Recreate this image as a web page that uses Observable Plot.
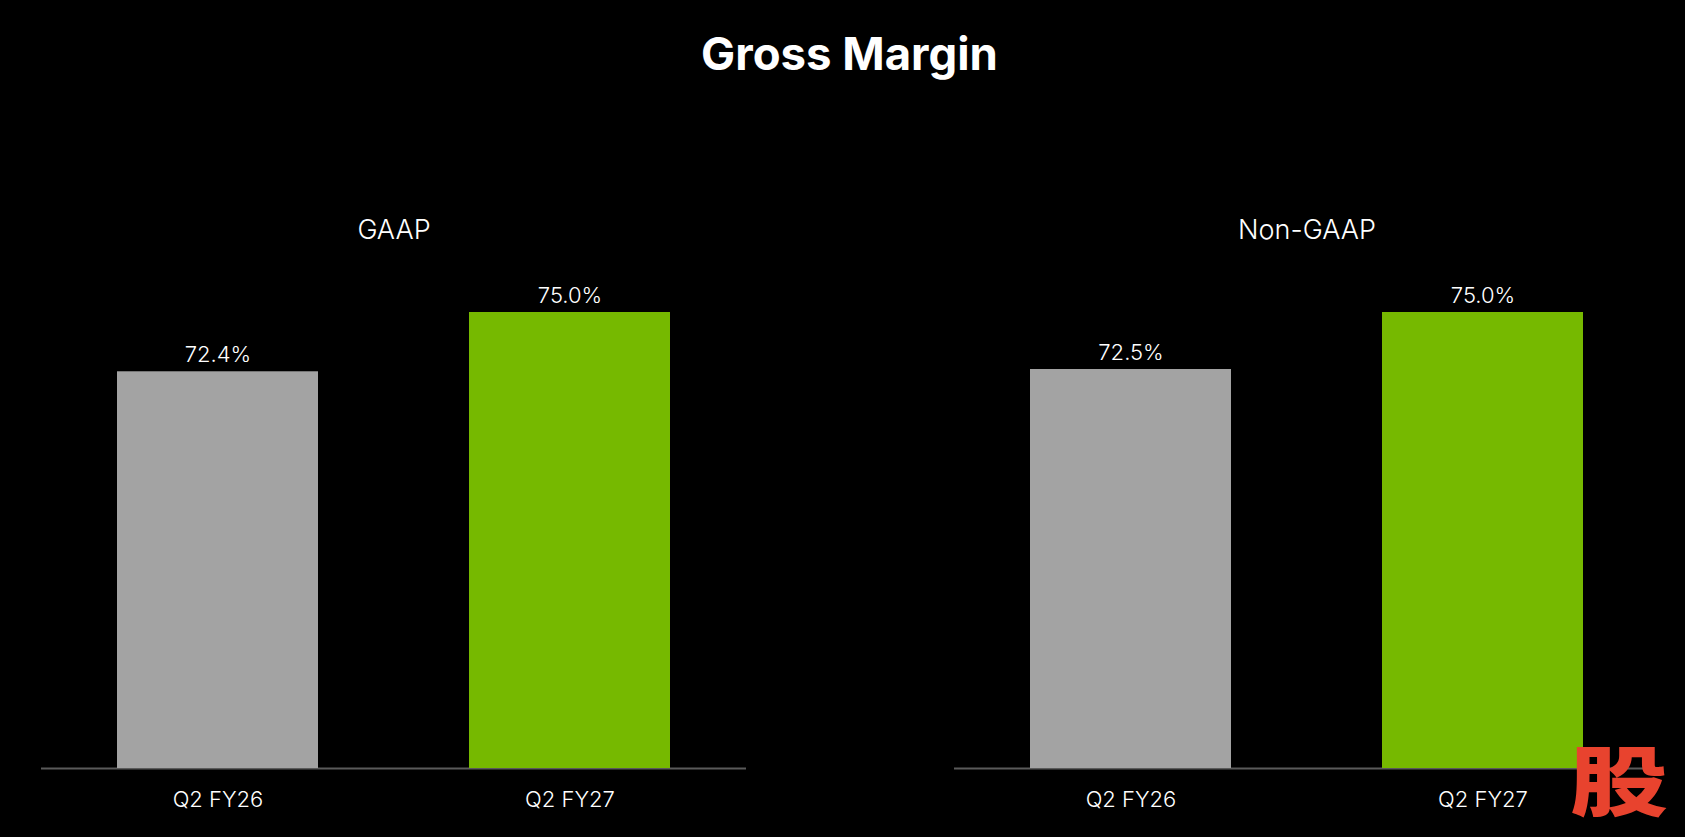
<!DOCTYPE html>
<html>
<head>
<meta charset="utf-8">
<script src="https://cdn.jsdelivr.net/npm/d3@7"></script>
<script src="https://cdn.jsdelivr.net/npm/@observablehq/plot@0.6"></script>
<style>
  html, body { margin: 0; padding: 0; background: #000; }
  body { width: 1685px; height: 837px; overflow: hidden; position: relative; font-family: Inter, "Noto Sans", sans-serif; color: #fff; }
  #title { height: 100px; box-sizing: border-box; padding-top: 31px; text-align: center; font-size: 45.5px; line-height: 46px; font-weight: 700; margin: 0; padding-left: 14px; }
  #chart svg { display: block; }
  #mark { position: absolute; left: 1570px; top: 739px; font-family: "Noto Sans CJK SC", sans-serif; font-weight: 900; font-size: 100px; line-height: 100px; color: #e8432e; transform: scale(0.98, 0.76); transform-origin: top left; }
</style>
</head>
<body>
<div id="title">Gross Margin</div>
<div id="chart"></div>
<div id="mark">股</div>
<script>
const panels = ["GAAP", "Non-GAAP"];
const periods = ["Q2 FY26", "Q2 FY27"];
const gaapValues = [72.4, 75.0];
const nonGaapValues = [72.5, 75.0];
const yFloor = 55;
const yCeil = 75;

const data = [
  ...periods.map((p, i) => ({panel: panels[0], period: p, value: gaapValues[i]})),
  ...periods.map((p, i) => ({panel: panels[1], period: p, value: nonGaapValues[i]}))
];

const chart = Plot.plot({
  width: 1685,
  height: 737,
  marginLeft: 41,
  marginRight: 25,
  marginTop: 212,
  marginBottom: 69,
  style: {background: "#000", color: "#fff", fontFamily: "Inter, 'Noto Sans', sans-serif", fontSize: "22px", fontWeight: 300},
  fx: {domain: panels, paddingInner: 0.2277, paddingOuter: 0, axis: null},
  x: {domain: periods, paddingInner: 0.4278, paddingOuter: 0.2125, label: null, tickSize: 0, tickPadding: 23},
  y: {domain: [yFloor, yCeil], axis: null},
  color: {domain: periods, range: ["#a3a3a3", "#76b900"]},
  marks: [
    Plot.ruleY([yFloor], {stroke: "#5a5a5a", strokeWidth: 2}),
    Plot.barY(data, {fx: "panel", x: "period", y1: yFloor, y2: "value", fill: "period"}),
    Plot.text(data, {fx: "panel", x: "period", y: "value", text: d => d.value.toFixed(1) + "%", lineAnchor: "bottom", dy: -10, fill: "#fff", fontSize: 22}),
    Plot.text(panels, {fx: d => d, text: d => d, frameAnchor: "top", dy: -93, fill: "#fff", fontSize: 27})
  ]
});
document.getElementById("chart").appendChild(chart);
</script>
</body>
</html>
